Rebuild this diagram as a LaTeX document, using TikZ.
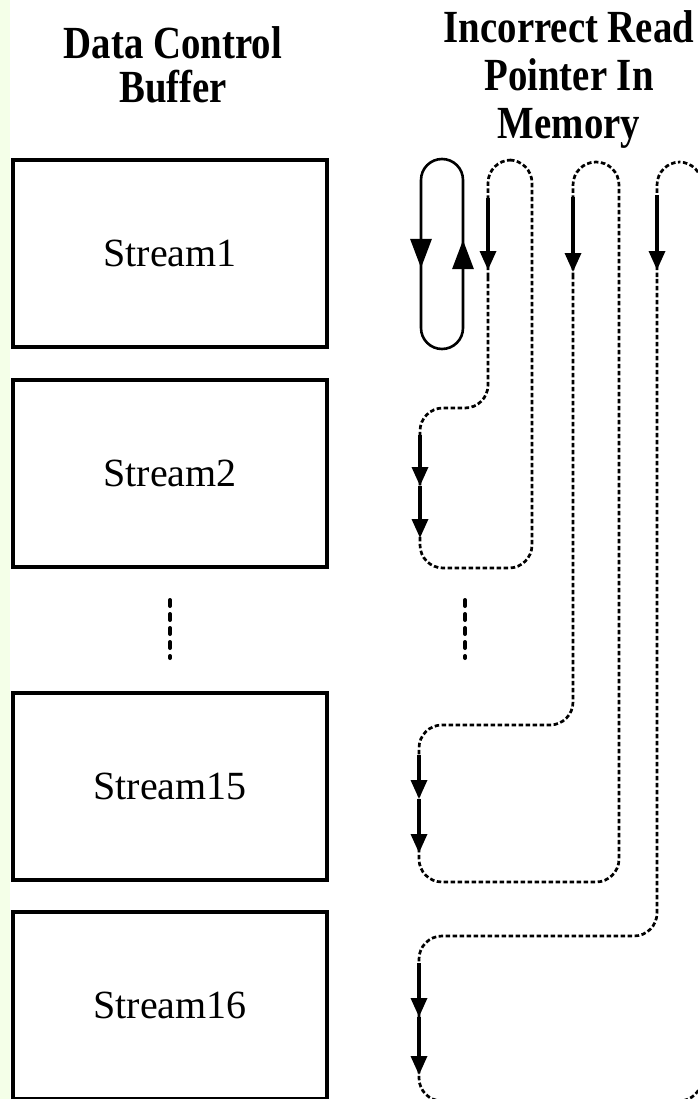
\documentclass[tikz,border=0pt]{standalone}
\usepackage{fontspec}
\setmainfont{Liberation Serif}
\usetikzlibrary{arrows.meta}
\definecolor{stripgreen}{RGB}{244,255,232}
\newcommand{\tallt}[1]{\scalebox{0.97}[1.15]{#1}}
\begin{document}
\begin{tikzpicture}[x=1pt,y=-1pt,
  box/.style={draw, line width=4pt, minimum width=314pt, minimum height=187pt, inner sep=0pt, font=\fontsize{40}{44}\selectfont},
  titleL/.style={font=\fontsize{40}{44}\selectfont\bfseries, align=center, inner sep=0pt},
  titleR/.style={font=\fontsize{40}{48}\selectfont\bfseries, align=center, inner sep=0pt},
  loopline/.style={line width=2.6pt, rounded corners=21pt},
  dashline/.style={line width=2.7pt, dash pattern=on 4.5pt off 2.5pt, rounded corners=23pt},
  bigarrow/.style={line width=2.8pt, -{Triangle[length=29pt,width=21pt]}},
  smallarrow/.style={line width=3.4pt, -{Triangle[length=19pt,width=16pt]}},
  vdotline/.style={line width=4pt, dash pattern=on 6pt off 8pt, line cap=round}
]
\useasboundingbox (0,0) rectangle (697,1099);
\fill[white] (0,0) rectangle (697,1099);
\fill[stripgreen] (0,0) rectangle (10,1099);

% titles
\node[titleL] (tl) at (173,65) {\tallt{Data Control}\\\tallt{Buffer}};
\node[titleR] (tr) at (569,80) {\tallt{Incorrect Read}\\\tallt{Pointer In}\\\tallt{Memory}};

% buffer boxes
\node[box] (s1) at (170,253.5) {Stream1};
\node[box] (s2) at (170,473) {Stream2};
\node[box] (s15) at (170,786.5) {Stream15};
\node[box] (s16) at (170,1005.5) {Stream16};

% vertical dots
\coordinate (dl1) at (170,600); \coordinate (dl2) at (170,658);
\coordinate (dr1) at (465,600); \coordinate (dr2) at (465,658);
\draw[vdotline] (dl1) -- (dl2);
\draw[vdotline] (dr1) -- (dr2);

% correct loop (solid)
\coordinate (L1) at (421,159); \coordinate (L2) at (463,349);
\draw[loopline] (L1) rectangle (L2);
\coordinate (la1) at (421,215); \coordinate (la2) at (421,268);
\coordinate (lb1) at (463,290); \coordinate (lb2) at (463,240);
\draw[bigarrow] (la1) -- (la2);
\draw[bigarrow] (lb1) -- (lb2);

% path to Stream2
\draw[dashline] (488,300) -- (488,160) -- (532,160) -- (532,568) -- (420,568) -- (420,408) -- (488,408) -- cycle;
\coordinate (pa1) at (488,198); \coordinate (pa2) at (488,270);
\draw[smallarrow] (pa1) -- (pa2);
\coordinate (qa1) at (420,435); \coordinate (qa2) at (420,486); \coordinate (qa3) at (420,538);
\draw[smallarrow] (qa1) -- (qa2);
\draw[smallarrow] (qa2) -- (qa3);

% path to Stream15
\draw[dashline] (573,300) -- (573,162) -- (619,162) -- (619,882) -- (419,882) -- (419,725) -- (573,725) -- cycle;
\coordinate (pb1) at (573,197); \coordinate (pb2) at (573,272);
\draw[smallarrow] (pb1) -- (pb2);
\coordinate (qb1) at (419,755); \coordinate (qb2) at (419,799); \coordinate (qb3) at (419,853);
\draw[smallarrow] (qb1) -- (qb2);
\draw[smallarrow] (qb2) -- (qb3);

% path to Stream16
\draw[dashline] (657,300) -- (657,162) -- (702,162) -- (702,1101) -- (419,1101) -- (419,936) -- (657,936) -- cycle;
\coordinate (pc1) at (657,195); \coordinate (pc2) at (657,270);
\draw[smallarrow] (pc1) -- (pc2);
\coordinate (qc1) at (419,963); \coordinate (qc2) at (419,1017); \coordinate (qc3) at (419,1075);
\draw[smallarrow] (qc1) -- (qc2);
\draw[smallarrow] (qc2) -- (qc3);
\end{tikzpicture}
\end{document}
